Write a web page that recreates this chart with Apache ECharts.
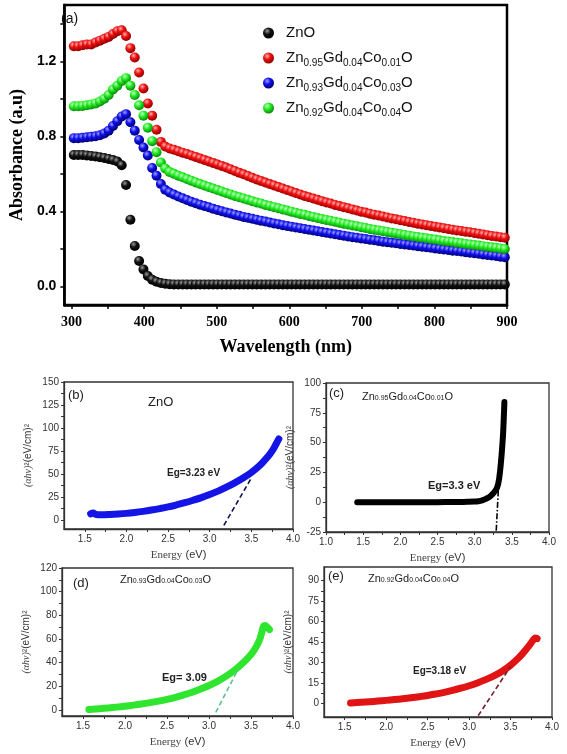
<!DOCTYPE html>
<html><head><meta charset="utf-8">
<script src="https://cdn.jsdelivr.net/npm/echarts@6/dist/echarts.min.js"></script>
<style>html,body{margin:0;padding:0;background:#fff}#c{width:567px;height:754px}</style>
</head><body><div id="c"></div><script>
// ---------- Panel (a): absorbance vs wavelength ----------
const wavelength = [303,309,315,321,327,333,339,345,351,357,363,369,375,381,387,393,399,405,411,417,423,429,435,441,447,453,459,465,471,477,483,489,495,501,507,513,519,525,531,537,543,549,555,561,567,573,579,585,591,597,603,609,615,621,627,633,639,645,651,657,663,669,675,681,687,693,699,705,711,717,723,729,735,741,747,753,759,765,771,777,783,789,795,801,807,813,819,825,831,837,843,849,855,861,867,873,879,885,891,897];
const absZnO = [0.70,0.70,0.70,0.698,0.695,0.692,0.688,0.684,0.679,0.673,
  0.665,0.645,0.54,0.355,0.215,0.135,0.09,0.055,0.035,0.024,
  0.017,0.013,0.011,0.01,0.01,0.01,0.01,0.01,0.01,0.01,
  0.01,0.01,0.01,0.01,0.01,0.01,0.01,0.01,0.01,0.01,
  0.01,0.01,0.01,0.01,0.01,0.01,0.01,0.01,0.01,0.01,
  0.01,0.01,0.01,0.01,0.01,0.01,0.01,0.01,0.01,0.01,
  0.01,0.01,0.01,0.01,0.01,0.01,0.01,0.01,0.01,0.01,
  0.01,0.01,0.01,0.01,0.01,0.01,0.01,0.01,0.01,0.01,
  0.01,0.01,0.01,0.01,0.01,0.01,0.01,0.01,0.01,0.01,
  0.01,0.01,0.01,0.01,0.01,0.01,0.01,0.01,0.01,0.01];
const absCo01 = [1.28,1.28,1.285,1.29,1.29,1.30,1.31,1.32,1.33,1.345,
  1.36,1.365,1.335,1.27,1.22,1.14,1.055,0.975,0.91,0.835,
  0.77,0.745,0.735,0.728,0.72,0.712,0.705,0.697,0.69,0.682,
  0.674,0.666,0.658,0.65,0.642,0.633,0.624,0.615,0.606,0.597,
  0.588,0.579,0.57,0.562,0.553,0.545,0.537,0.529,0.521,0.513,
  0.505,0.497,0.49,0.482,0.475,0.468,0.461,0.454,0.447,0.441,
  0.434,0.428,0.422,0.416,0.41,0.404,0.398,0.393,0.387,0.382,
  0.377,0.372,0.367,0.362,0.357,0.352,0.348,0.343,0.339,0.334,
  0.33,0.326,0.322,0.318,0.314,0.31,0.306,0.302,0.298,0.295,
  0.291,0.288,0.284,0.28,0.276,0.272,0.268,0.265,0.262,0.259];
const absCo03 = [0.79,0.79,0.792,0.795,0.798,0.80,0.805,0.815,0.83,0.855,
  0.88,0.905,0.918,0.875,0.83,0.78,0.74,0.697,0.631,0.59,
  0.545,0.515,0.5,0.489,0.479,0.469,0.46,0.451,0.443,0.435,
  0.428,0.421,0.414,0.407,0.40,0.394,0.388,0.382,0.376,0.37,
  0.365,0.36,0.355,0.35,0.345,0.34,0.335,0.331,0.326,0.322,
  0.318,0.313,0.309,0.305,0.301,0.297,0.293,0.289,0.285,0.281,
  0.277,0.273,0.27,0.266,0.262,0.259,0.255,0.252,0.248,0.245,
  0.242,0.238,0.235,0.232,0.229,0.226,0.223,0.22,0.217,0.214,
  0.211,0.208,0.205,0.202,0.199,0.196,0.193,0.19,0.188,0.185,
  0.182,0.179,0.176,0.173,0.17,0.167,0.164,0.161,0.158,0.155];
const absCo04 = [0.96,0.96,0.962,0.965,0.97,0.975,0.985,1.0,1.02,1.05,
  1.07,1.095,1.11,1.07,1.02,0.965,0.91,0.846,0.774,0.715,
  0.66,0.628,0.61,0.6,0.59,0.581,0.572,0.563,0.554,0.545,
  0.537,0.529,0.521,0.513,0.505,0.497,0.49,0.482,0.475,0.468,
  0.461,0.454,0.447,0.441,0.434,0.428,0.422,0.416,0.41,0.404,
  0.398,0.392,0.386,0.381,0.375,0.37,0.364,0.359,0.354,0.349,
  0.344,0.339,0.334,0.329,0.324,0.32,0.315,0.311,0.306,0.302,
  0.298,0.294,0.29,0.286,0.282,0.278,0.274,0.27,0.266,0.263,
  0.259,0.256,0.252,0.249,0.245,0.242,0.239,0.236,0.232,0.229,
  0.226,0.223,0.22,0.217,0.214,0.211,0.208,0.205,0.202,0.199];
const seriesNames = ['ZnO','Zn0.95Gd0.04Co0.01O','Zn0.93Gd0.04Co0.03O','Zn0.92Gd0.04Co0.04O'];
const legendRich = ['{m|ZnO}',
  '{m|Zn}{s|0.95}{m|Gd}{s|0.04}{m|Co}{s|0.01}{m|O}',
  '{m|Zn}{s|0.93}{m|Gd}{s|0.04}{m|Co}{s|0.03}{m|O}',
  '{m|Zn}{s|0.92}{m|Gd}{s|0.04}{m|Co}{s|0.04}{m|O}'];
const wlTicks = [300,400,500,600,700,800,900];
const wlMinorTicks = [300,350,400,450,500,550,600,650,700,750,800,850,900];
const absTicks = [0.0,0.4,0.8,1.2];
const absMinorTicks = [0.0,0.2,0.4,0.6,0.8,1.0,1.2,1.4];

// ---------- Panels (b)-(e): Tauc plots ----------
const bEnergy = [1.57,1.60,1.63,1.7,1.8,1.9,2.0,2.1,2.2,2.3,2.4,2.5,2.6,2.7,2.8,2.9,3.0,3.1,3.2,3.3,3.4,3.5,3.6,3.7,3.75,3.8,3.83];
const bValue  = [6.5,7.5,6.0,5.5,5.8,6.3,7,8,9.2,10.6,12.2,14,16.2,18.6,21.3,24.2,27.5,31.2,35.5,40.2,45.5,51.5,59,69,75,83,88];
const bTanE = [3.17,3.49], bTanV = [-6,44];
const cEnergy = [1.42,1.6,1.8,2.0,2.2,2.4,2.6,2.8,2.9,3.0,3.05,3.1,3.15,3.2,3.25,3.3,3.33,3.36,3.38,3.39,3.40];
const cValue  = [0,0,0,0,0,0,0.1,0.2,0.3,0.5,0.8,1.5,2.8,4.5,7.5,12,20,38,55,68,84];
const cTanE = [3.29,3.32], cTanV = [-24,12];
const dEnergy = [1.57,1.7,1.8,1.9,2.0,2.1,2.2,2.3,2.4,2.5,2.6,2.7,2.8,2.9,3.0,3.1,3.2,3.3,3.4,3.5,3.55,3.6,3.63,3.65,3.67,3.7,3.72];
const dValue  = [0.5,1.2,1.8,2.5,3.3,4.2,5.2,6.3,7.6,9.1,10.8,12.8,15.1,17.8,20.8,24.3,28.5,33.5,39.5,47,52,59,66,71,71.5,69.5,68];
const dTanE = [3.08,3.35], dTanV = [-2,35];
const eEnergy = [1.57,1.7,1.8,1.9,2.0,2.1,2.2,2.3,2.4,2.5,2.6,2.7,2.8,2.9,3.0,3.1,3.2,3.3,3.4,3.5,3.6,3.7,3.75,3.78,3.8,3.82];
const eValue  = [0.3,0.8,1.2,1.7,2.2,2.8,3.4,4.1,4.9,5.8,6.9,8.1,9.5,11.1,12.9,15,17.4,20.2,23.6,28,33.5,40.5,44.5,47,48,47.5];
const eTanE = [3.11,3.5], eTanV = [-9,27];
const bYTicks = [0,25,50,75,100,125,150];
const cYTicks = [-25,0,25,50,75,100];
const dYTicks = [0,20,40,60,80,100,120];
const eYTicks = [0,15,30,45,60,75,90];
const eTicksB = [1.5,2.0,2.5,3.0,3.5,4.0];
const eTicksC = [1.0,1.5,2.0,2.5,3.0,3.5,4.0];

// ---------- build ----------
const chart = echarts.init(document.getElementById('c'));
const pairs = (xs, ys) => xs.map((x, i) => [x, ys[i]]);
const ball = (l, m, d) => new echarts.graphic.RadialGradient(0.38, 0.32, 0.68, [
  {offset: 0, color: l}, {offset: 0.45, color: m}, {offset: 1, color: d}]);
const ballColors = [ball('#9a9a9a', '#111', '#000'), ball('#ffb0b0', '#f01010', '#900000'),
  ball('#a0a0ff', '#1010f0', '#00006a'), ball('#c8ffc8', '#22ee22', '#0a8a0a')];
const absData = [absZnO, absCo01, absCo03, absCo04];

const SANS = "'Liberation Sans', Arial, sans-serif";
const NARROW = "'Liberation Sans Narrow', 'Liberation Sans', Arial, sans-serif";
const SERIF = "'Liberation Serif', 'Times New Roman', serif";

function half(ticks) {
  const out = [];
  for (let i = 0; i < ticks.length; i++) {
    out.push(ticks[i]);
    if (i < ticks.length - 1) out.push((ticks[i] + ticks[i + 1]) / 2);
  }
  return out;
}

const grids = [
  {left: 54, right: 60, top: 5, bottom: 449},
  {left: 64, right: 274, top: 382, bottom: 225},
  {left: 326, right: 18, top: 383, bottom: 222},
  {left: 62, right: 274, top: 568, bottom: 38},
  {left: 324, right: 15, top: 567, bottom: 37}
];
grids.forEach((g, i) => { g.show = true; g.borderColor = i === 0 ? '#000' : '#333'; g.borderWidth = i === 0 ? 2.5 : 1.3; });

const smallAxisLabel = {color: '#333', fontSize: 10, fontFamily: NARROW, margin: 5};
const energyName = '{s|Energy} {n|(eV)}';
const energyNameStyle = {color: '#333', rich: {s: {fontFamily: SERIF, fontSize: 11, color: '#444'}, n: {fontFamily: SANS, fontSize: 11, color: '#333'}}};
const tauName = '{i|(αhν)}{n|²(eV/cm)²}';
const tauNameStyle = {color: '#333', rich: {i: {fontFamily: SERIF, fontStyle: 'italic', fontSize: 10, color: '#444'}, n: {fontFamily: SANS, fontSize: 10, color: '#333'}}};

function lowerX(idx, min, labels) {
  return {gridIndex: idx, type: 'value', min: min, max: 4.0,
    axisLine: {show: true, onZero: false, lineStyle: {color: '#333', width: 1.3}},
    axisTick: {show: true, length: 3, customValues: half(labels), lineStyle: {color: '#333'}},
    axisLabel: Object.assign({customValues: labels, formatter: v => v.toFixed(1)}, smallAxisLabel),
    splitLine: {show: false},
    name: energyName, nameLocation: 'middle', nameGap: 20, nameTextStyle: energyNameStyle};
}
function lowerY(idx, min, max, labels) {
  return {gridIndex: idx, type: 'value', min: min, max: max,
    axisLine: {show: true, onZero: false, lineStyle: {color: '#333', width: 1.3}},
    axisTick: {show: true, length: 3, customValues: half(labels), lineStyle: {color: '#333'}},
    axisLabel: Object.assign({customValues: labels}, smallAxisLabel),
    splitLine: {show: false},
    name: tauName, nameLocation: 'middle', nameGap: 31, nameTextStyle: tauNameStyle};
}

const xAxes = [
  {gridIndex: 0, type: 'value', min: 290, max: 900,
    axisLine: {show: true, onZero: false, lineStyle: {color: '#000', width: 2.5}},
    axisTick: {show: true, length: 4, customValues: wlMinorTicks, lineStyle: {color: '#000', width: 1.5}},
    axisLabel: {customValues: wlTicks, color: '#000', fontSize: 14, fontWeight: 'bold', fontFamily: SERIF, margin: 10},
    splitLine: {show: false},
    name: 'Wavelength (nm)', nameLocation: 'middle', nameGap: 33,
    nameTextStyle: {color: '#000', fontSize: 18, fontWeight: 'bold', fontFamily: SERIF}},
  lowerX(1, 1.25, eTicksB),
  lowerX(2, 1.0, eTicksC),
  lowerX(3, 1.25, eTicksB),
  lowerX(4, 1.25, eTicksB)
];
const yAxes = [
  {gridIndex: 0, type: 'value', min: -0.1, max: 1.5,
    axisLine: {show: true, onZero: false, lineStyle: {color: '#000', width: 2.5}},
    axisTick: {show: true, length: 4, customValues: absMinorTicks, lineStyle: {color: '#000', width: 1.5}},
    axisLabel: {customValues: absTicks, formatter: v => v.toFixed(1), color: '#000', fontSize: 14, fontWeight: 'bold', fontFamily: SANS, margin: 8},
    splitLine: {show: false},
    name: 'Absorbance (a.u)', nameLocation: 'middle', nameGap: 32,
    nameTextStyle: {color: '#000', fontSize: 18, fontWeight: 'bold', fontFamily: SERIF}},
  lowerY(1, -10, 150, bYTicks),
  lowerY(2, -25, 100, cYTicks),
  lowerY(3, -5, 120, dYTicks),
  lowerY(4, -10, 100, eYTicks)
];

const series = [];
absData.forEach((arr, i) => {
  series.push({name: seriesNames[i], type: 'scatter', xAxisIndex: 0, yAxisIndex: 0,
    symbol: 'circle', symbolSize: 10, data: pairs(wavelength, arr),
    itemStyle: {color: ballColors[i], opacity: 1}, emphasis: {disabled: true}, silent: true, z: 2 + i});
});
function tauc(idx, xs, ys, color, width) {
  series.push({type: 'line', xAxisIndex: idx, yAxisIndex: idx, data: pairs(xs, ys), smooth: 0.35,
    showSymbol: false, symbol: 'none', lineStyle: {color: color, width: width, cap: 'round', join: 'round'}, silent: true, z: 3});
}
function tangent(idx, xs, ys, color, type) {
  series.push({type: 'line', xAxisIndex: idx, yAxisIndex: idx, data: pairs(xs, ys),
    showSymbol: false, symbol: 'none', lineStyle: {color: color, width: 1.6, type: type}, silent: true, z: 4});
}
tauc(1, bEnergy, bValue, '#1414e6', 7);
tangent(1, bTanE, bTanV, '#14145a', [5, 3]);
tauc(2, cEnergy, cValue, '#000', 6);
tangent(2, cTanE, cTanV, '#000', [6, 2, 1.5, 2]);
tauc(3, dEnergy, dValue, '#2fe52f', 7);
tangent(3, dTanE, dTanV, '#5cc28a', [5, 3]);
tauc(4, eEnergy, eValue, '#e01414', 7);
tangent(4, eTanE, eTanV, '#7a1a2a', [5, 3]);

const subRich = (main, sub) => ({m: {fontSize: main, fontFamily: NARROW, color: '#222'}, s: {fontSize: sub, fontFamily: NARROW, color: '#444', verticalAlign: 'bottom', lineHeight: 9}});
function txt(left, top, text, style) {
  return {type: 'text', left: left, top: top, silent: true, z: 100, zlevel: 1, style: Object.assign({text: text, fill: '#222'}, style)};
}
const graphics = [
  txt(61, 12, '(a)', {font: '14px ' + SANS, fill: '#111'}),
  txt(68, 389, '(b)', {font: '13px ' + SANS}),
  txt(148, 396, 'ZnO', {font: '13px ' + SANS}),
  txt(167, 468, 'Eg=3.23 eV', {font: 'bold 10px ' + NARROW}),
  txt(329, 387, '(c)', {font: '13px ' + SANS}),
  txt(362, 391, '{m|Zn}{s|0.95}{m|Gd}{s|0.04}{m|Co}{s|0.01}{m|O}', {rich: subRich(11, 7)}),
  txt(428, 480, 'Eg=3.3 eV', {font: 'bold 11px ' + NARROW}),
  txt(73, 577, '(d)', {font: '13px ' + SANS}),
  txt(120, 574, '{m|Zn}{s|0.93}{m|Gd}{s|0.04}{m|Co}{s|0.03}{m|O}', {rich: subRich(11, 7)}),
  txt(162, 672, 'Eg= 3.09', {font: 'bold 11px ' + NARROW}),
  txt(328, 570, '(e)', {font: '13px ' + SANS}),
  txt(368, 573, '{m|Zn}{s|0.92}{m|Gd}{s|0.04}{m|Co}{s|0.04}{m|O}', {rich: subRich(11, 7)}),
  txt(413, 666, 'Eg=3.18 eV', {font: 'bold 10px ' + NARROW})
];

chart.setOption({
  backgroundColor: '#fff',
  animation: false,
  grid: grids,
  xAxis: xAxes,
  yAxis: yAxes,
  legend: {
    data: seriesNames, orient: 'vertical', left: 258, top: 18,
    icon: 'circle', itemWidth: 25, itemHeight: 11, itemGap: 5,
    selectedMode: false,
    formatter: name => legendRich[seriesNames.indexOf(name)],
    textStyle: {color: '#111', fontSize: 15, fontFamily: SANS, lineHeight: 20,
      rich: {m: {fontSize: 15, fontFamily: SANS, color: '#111', lineHeight: 20},
             s: {fontSize: 10, fontFamily: SANS, color: '#111', lineHeight: 10, verticalAlign: 'bottom'}}}
  },
  graphic: graphics,
  series: series
});
</script></body></html>
